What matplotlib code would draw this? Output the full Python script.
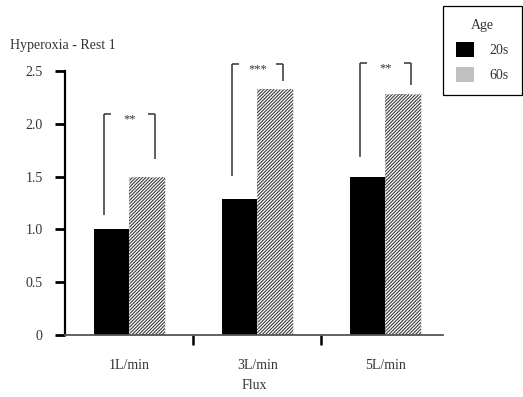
import matplotlib
matplotlib.use("Agg")
import matplotlib.pyplot as plt
from matplotlib.patches import Patch
import numpy as np

# ---- data ----
categories = ["1L/min", "3L/min", "5L/min"]
age_20s = [1.0, 1.29, 1.50]
age_60s = [1.50, 2.33, 2.28]
sig_labels = ["**", "***", "**"]
sig_top = [2.09, 2.57, 2.58]
sig_left_bottom = [1.14, 1.51, 1.69]
sig_right_bottom = [1.67, 2.41, 2.37]
yticks = [0, 0.5, 1.0, 1.5, 2.0, 2.5]
ytick_labels = ["0", "0.5", "1.0", "1.5", "2.0", "2.5"]
legend_labels = ["20s", "60s"]

plt.rcParams['font.family'] = ['Liberation Serif', 'DejaVu Serif']
plt.rcParams['hatch.linewidth'] = 0.8
txt = '#333333'

fig = plt.figure(figsize=(5.23, 3.97), dpi=100)
ax = fig.add_axes([65/523, 1-335/397, 378/523, (335-71)/397])

x = np.arange(len(categories))
w = 0.28
ax.bar(x - w/2, age_20s, width=w, color='black', edgecolor='none')
ax.bar(x + w/2, age_60s, width=w, color='white', edgecolor='#3a3a3a',
       hatch='//////////', linewidth=0)
ax.bar(x + w/2, age_60s, width=w, fill=False, edgecolor='#bbbbbb',
       linewidth=0.8, linestyle=':')

# significance brackets
d = 0.2
h = 0.055
for i in range(len(categories)):
    xl, xr = x[i] - d, x[i] + d
    t = sig_top[i]
    kw = dict(color='#333333', lw=1.1, solid_capstyle='butt', clip_on=False)
    ax.plot([xl, xl], [sig_left_bottom[i], t], **kw)
    ax.plot([xl, xl + h], [t, t], **kw)
    ax.plot([xr - h, xr], [t, t], **kw)
    ax.plot([xr, xr], [t, sig_right_bottom[i]], **kw)
    ax.text(x[i], t - 0.05, sig_labels[i], ha='center', va='center',
            fontsize=9, color=txt, clip_on=False)

ax.set_xlim(-0.504, 2.45)
ax.set_ylim(0, 2.5)
ax.set_yticks(yticks)
ax.set_yticklabels(ytick_labels)
ax.set_xticks(x)
ax.set_xticklabels(categories)
ax.set_xticks([0.5, 1.5], minor=True)
ax.tick_params(axis='x', which='major', length=0, pad=17, labelsize=10, labelcolor=txt)
ax.tick_params(axis='x', which='minor', length=7, width=1.8, direction='out', color='black')
ax.tick_params(axis='y', length=7, width=2, direction='out', pad=9,
               labelsize=10, labelcolor=txt)

for s in ['top', 'right']:
    ax.spines[s].set_visible(False)
ax.spines['left'].set_linewidth(1.6)
ax.spines['bottom'].set_linewidth(1.3)
ax.spines['bottom'].set_color('#555555')

ax.set_xlabel("Flux", fontsize=10, color=txt, labelpad=5)
fig.text(10/523, 1-45/397, "Hyperoxia - Rest 1", ha='left', va='center',
         fontsize=10, color=txt)

handles = [Patch(facecolor='black', edgecolor='none'),
           Patch(facecolor='#c0c0c0', edgecolor='none')]
leg = fig.legend(handles, legend_labels, title="Age", loc='upper left',
                 bbox_to_anchor=(443/523, 1-6/397), fancybox=False,
                 edgecolor='black', framealpha=1, fontsize=10,
                 title_fontsize=10, handlelength=1.3, handleheight=1.3,
                 borderpad=0.95, labelspacing=0.7, handletextpad=1.1,
                 borderaxespad=0)
leg.get_frame().set_linewidth(0.9)
for t in leg.get_texts():
    t.set_color(txt)
leg.get_title().set_color(txt)

fig.savefig("out.png", dpi=100)
